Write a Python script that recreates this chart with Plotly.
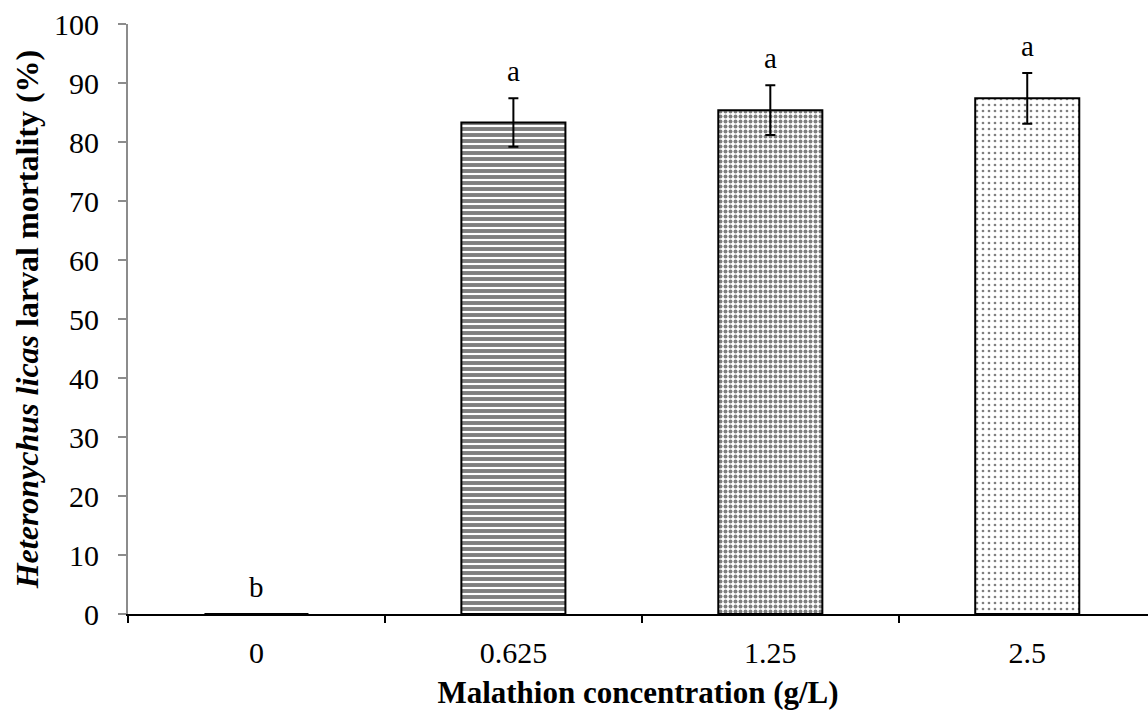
import plotly.graph_objects as go

categories = ["0", "0.625", "1.25", "2.5"]
mortality = [0.0, 83.3, 85.4, 87.4]
errors = [0.0, 4.1, 4.2, 4.3]
letters = ["b", "a", "a", "a"]
y_ticks = [0, 10, 20, 30, 40, 50, 60, 70, 80, 90, 100]

FONT = "Liberation Serif, Times New Roman, serif"

fig = go.Figure()
fig.add_trace(go.Bar(
    x=categories,
    y=mortality,
    error_y=dict(type="data", array=errors, visible=True, color="black",
                 thickness=2, width=5),
    marker=dict(
        color="white",
        line=dict(color="black", width=2),
        pattern=dict(
            shape=["", "-", ".", "."],
            fgcolor="black",
            bgcolor="white",
            size=[6, 6, 5, 6],
            solidity=[0.3, 0.65, 0.5, 0.16],
        ),
    ),
    showlegend=False,
    hoverinfo="skip",
))

for i, (m, e, lab) in enumerate(zip(mortality, errors, letters)):
    fig.add_annotation(x=i, y=m + e, text=lab, showarrow=False,
                       xref="x", yref="y",
                       yshift=27, yanchor="middle",
                       font=dict(family=FONT, size=29, color="black"))

fig.update_layout(
    width=1148, height=710,
    margin=dict(l=128, r=0, t=24, b=96),
    paper_bgcolor="white", plot_bgcolor="white",
    bargap=0.595,
    font=dict(family=FONT, color="black"),
)
fig.update_xaxes(
    type="category",
    range=[-0.5, 3.47],
    automargin=False,
    showline=True, linecolor="black", linewidth=2,
    ticks="outside", tickson="boundaries", ticklen=7, tickwidth=2, tickcolor="black",
    tickfont=dict(family=FONT, size=30, color="black"),
    ticklabelstandoff=11,
    showgrid=False, zeroline=False,
    title=dict(text="<b>Malathion concentration (g/L)</b>",
               font=dict(family=FONT, size=31, color="black"), standoff=15),
)
fig.update_yaxes(
    range=[0, 100],
    tickvals=y_ticks,
    automargin=False,
    showline=True, linecolor="#8c8c8c", linewidth=2,
    ticks="outside", ticklen=8, tickwidth=2, tickcolor="#8c8c8c",
    tickfont=dict(family=FONT, size=30, color="black"),
    ticklabelstandoff=13,
    showgrid=False, zeroline=False,
    title=dict(text="<b><i>Heteronychus licas</i> larval mortality (%)</b>",
               font=dict(family=FONT, size=32, color="black"), standoff=6),
)

fig.write_html("out.html",
               config={"displayModeBar": False},
               post_script="document.body.style.margin='0';document.body.style.overflow='hidden';")
